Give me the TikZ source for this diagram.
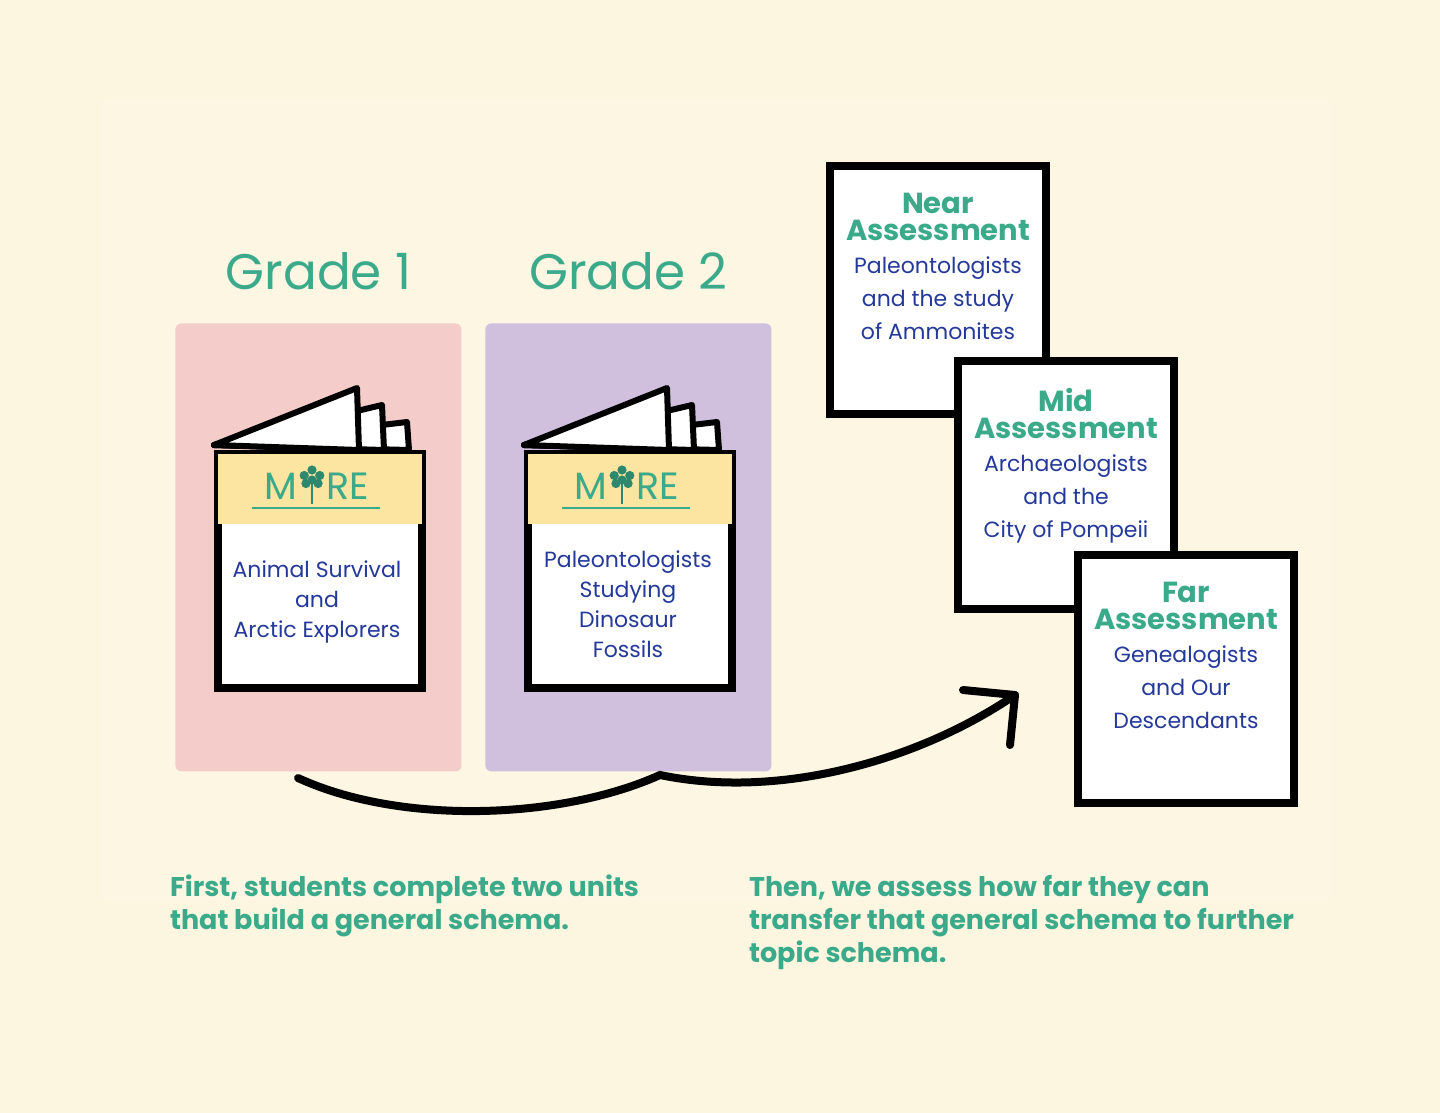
\documentclass[tikz,border=0pt]{standalone}
\usepackage{fontspec}
\setmainfont{Poppins}
\usetikzlibrary{positioning,calc,arrows.meta}
\definecolor{bgcream}{HTML}{FCF5DF}
\definecolor{incream}{HTML}{FCF6E2}
\definecolor{pinkpanel}{HTML}{F4CDCB}
\definecolor{lilacpanel}{HTML}{D0C0DD}
\definecolor{tealtext}{HTML}{3AAA8A}
\definecolor{bluetext}{HTML}{24399A}
\definecolor{bandyellow}{HTML}{FBE5A0}
\tikzset{
    every node/.style={font=\small},
    panel/.style={rounded corners=3pt, draw=none},
    gradelabel/.style={text=tealtext, font=\fontsize{25}{27}\selectfont},
    booktext/.style={text=bluetext, align=center, font=\fontsize{11}{15}\selectfont},
    logotext/.style={text=tealtext, inner sep=0pt, font=\fontsize{19}{19}\selectfont},
    assessbox/.style={draw=black, line width=4pt, fill=white, minimum width=108pt, minimum height=124pt},
    assesstitle/.style={text=tealtext, align=center, font=\fontsize{14.5}{13.5}\selectfont\bfseries},
    assesstext/.style={text=bluetext, align=center, font=\fontsize{11}{16.5}\selectfont},
    caption/.style={text=tealtext, align=left, font=\fontsize{13.5}{16.5}\selectfont\bfseries},
    pageedge/.style={draw=black, fill=white, line width=3pt, line join=round},
}
% open booklet with logo band; #1 = x, #2 = name
\newcommand{\booklet}[2]{
  \foreach \i in {2,1,0}{
    \draw[pageedge] (#1,445) -- (#1+143+\i*25,388+\i*17) -- (#1+145+\i*25,450) -- cycle;
  }
  \node[draw=black, line width=4pt, fill=white, minimum width=102pt, minimum height=117pt,
        anchor=north west, inner sep=0pt] (#2) at (#1,450) {};
  \fill[bandyellow] ([xshift=2pt,yshift=-2pt]#2.north west) rectangle ([xshift=-2pt,yshift=-37pt]#2.north east);
  \coordinate (#2-tree) at ($(#2.north)+(-4pt,-18pt)$);
  \node[logotext, anchor=east] (#2-m) at ($(#2-tree)+(-7pt,0)$) {M};
  \node[logotext, anchor=west] (#2-re) at ($(#2-tree)+(7pt,0)$) {RE};
  \draw[tealtext!80!black, line width=1pt] ($(#2-tree)+(0,-9pt)$) -- ($(#2-tree)+(0,2pt)$);
  \foreach \a/\r in {90/0,30/4.5pt,150/4.5pt,210/3.5pt,330/3.5pt,90/5pt}{
    \fill[tealtext!80!black] ($(#2-tree)+(0,3pt)+(\a:\r)$) circle (2.3pt);
  }
  \draw[tealtext, line width=0.8pt] ($(#2-tree)+(-30pt,-11pt)$) -- ($(#2-tree)+(34pt,-11pt)$);
}
\begin{document}
\begin{tikzpicture}[x=0.5pt, y=-0.5pt]
\fill[bgcream] (0,0) rectangle (1440,1113);
\fill[incream] (100,100) rectangle (1333,900);
\useasboundingbox (0,0) rectangle (1440,1113);

% grade panels
\node[panel, fill=pinkpanel, minimum width=143pt, minimum height=224pt, anchor=north west] (g1) at (175,323) {};
\node[panel, fill=lilacpanel, minimum width=143pt, minimum height=224pt, anchor=north west] (g2) at (485,323) {};
\node[gradelabel, above=13pt of g1] (g1-title) {Grade 1};
\node[gradelabel, above=13pt of g2] (g2-title) {Grade 2};

\booklet{214}{bookA}
\booklet{524}{bookB}
\node[booktext] (bookA-text) at (317,602) {Animal Survival\\and\\Arctic Explorers};
\node[booktext] (bookB-text) at (628,604) {Paleontologists\\Studying\\Dinosaur\\Fossils};

% assessments
\node[assessbox, anchor=north west] (near) at (826,162) {};
\node[assesstitle, below=12pt of near.north] (near-title) {Near\\Assessment};
\node[assesstext, below=1pt of near-title] (near-text) {Paleontologists\\and the study\\of Ammonites};

\node[assessbox, anchor=north west] (mid) at (954,357) {};
\node[assesstitle, below=12pt of mid.north] (mid-title) {Mid\\Assessment};
\node[assesstext, below=1pt of mid-title] (mid-text) {Archaeologists\\and the\\City of Pompeii};

\node[assessbox, anchor=north west] (far) at (1074,551) {};
\node[assesstitle, below=12pt of far.north] (far-title) {Far\\Assessment};
\node[assesstext, below=1pt of far-title] (far-text) {Genealogists\\and Our\\Descendants};

% transfer arrow
\coordinate (arrow-start) at (298,778);
\coordinate (arrow-end) at (1015,695);
\draw[line width=4pt, line cap=round] (arrow-start) .. controls (400,825) and (560,820) .. (660,775)
  .. controls (780,800) and (920,760) .. (arrow-end);
\draw[line width=4pt, line cap=round, line join=round] (963,690) -- (arrow-end) -- (1010,745);

% captions
\node[caption, anchor=north west] (cap-left) at (163,868) {First, students complete two units\\that build a general schema.};
\node[caption, anchor=north west] (cap-right) at (742,868) {Then, we assess how far they can\\transfer that general schema to further\\topic schema.};
\end{tikzpicture}
\end{document}
